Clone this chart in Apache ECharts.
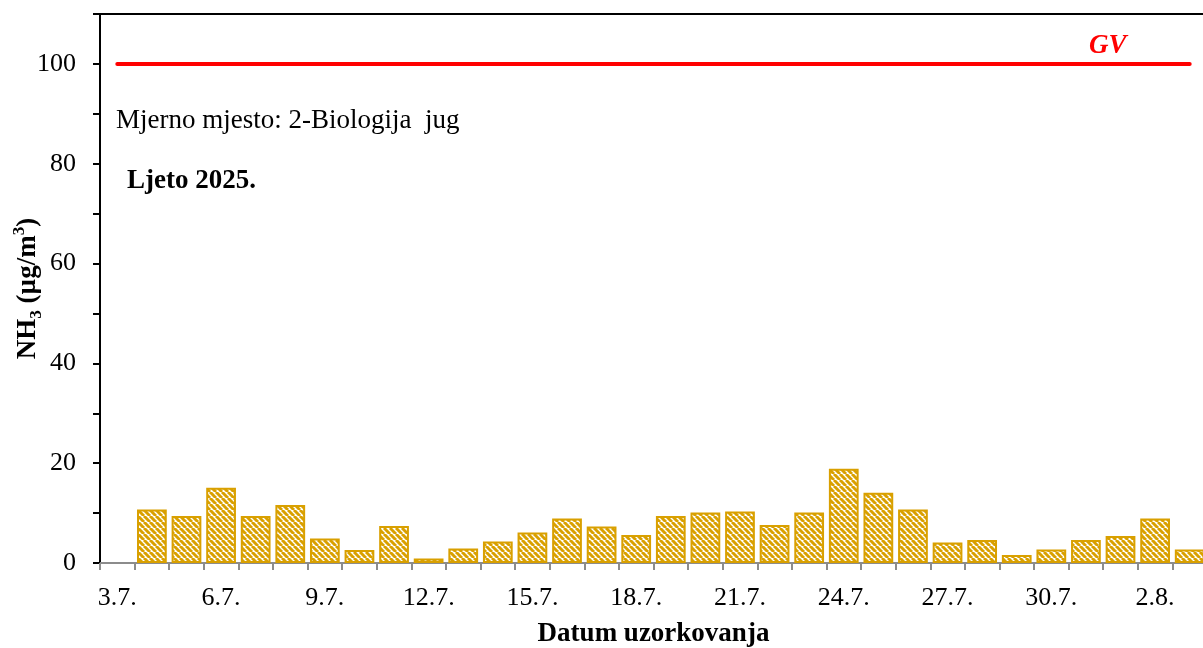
<!DOCTYPE html>
<html>
<head>
<meta charset="utf-8">
<script src="https://cdn.jsdelivr.net/npm/echarts@6/dist/echarts.min.js"></script>
<style>
  html, body { margin: 0; padding: 0; background: #fff; }
  #chart { width: 1203px; height: 648px; }
</style>
</head>
<body>
<div id="chart"></div>
<script type="text/javascript">
// datumi uzorkovanja (3.7. - 3.8.)
var days = ['3.7.', '4.7.', '5.7.', '6.7.', '7.7.', '8.7.', '9.7.', '10.7.', '11.7.', '12.7.',
  '13.7.', '14.7.', '15.7.', '16.7.', '17.7.', '18.7.', '19.7.', '20.7.', '21.7.', '22.7.',
  '23.7.', '24.7.', '25.7.', '26.7.', '27.7.', '28.7.', '29.7.', '30.7.', '31.7.', '1.8.',
  '2.8.', '3.8.'];
// NH3 koncentracije (µg/m3)
var nh3 = [null, 10.7, 9.4, 15.1, 9.4, 11.6, 4.9, 2.6, 7.4, 0.9,
  2.9, 4.3, 6.1, 8.9, 7.3, 5.6, 9.4, 10.1, 10.3, 7.6,
  10.1, 18.9, 14.1, 10.7, 4.1, 4.6, 1.6, 2.7, 4.6, 5.4,
  8.9, 2.7];
// granicna vrijednost
var gv = 100;
var yTicks = [0, 20, 40, 60, 80, 100];

var serif = '"Liberation Serif", "Times New Roman", serif';
var gold = '#D9A000';

// srafura za stupce
function hatch() {
  var n = 6;
  var c = document.createElement('canvas');
  c.width = n; c.height = n;
  var ctx = c.getContext('2d');
  ctx.fillStyle = '#ffffff';
  ctx.fillRect(0, 0, n, n);
  ctx.strokeStyle = gold;
  ctx.lineWidth = 3;
  [-n, 0, n].forEach(function (k) {
    ctx.beginPath();
    ctx.moveTo(k, 0);
    ctx.lineTo(k + n, n);
    ctx.stroke();
  });
  return c;
}

var chart = echarts.init(document.getElementById('chart'));
var options = {
  animation: false,
  backgroundColor: '#ffffff',
  grid: { left: 100, top: 14, right: -4, bottom: 85, containLabel: false, outerBoundsMode: 'none' },
  xAxis: [{
    type: 'category',
    data: days,
    boundaryGap: true,
    axisLine: { lineStyle: { color: '#8c8c8c', width: 2 } },
    axisTick: { show: true, length: 7, alignWithLabel: false, interval: 0, lineStyle: { color: '#8c8c8c', width: 2 } },
    axisLabel: { interval: 2, margin: 22, color: '#000', fontFamily: serif, fontSize: 26 },
    name: 'Datum uzorkovanja',
    nameLocation: 'middle',
    nameGap: 58,
    nameMoveOverlap: false,
    nameTextStyle: { color: '#000', fontFamily: serif, fontSize: 27, fontWeight: 'bold' }
  }, {
    type: 'category',
    data: days,
    position: 'top',
    axisLine: { lineStyle: { color: '#000', width: 2 } },
    axisTick: { show: false },
    axisLabel: { show: false }
  }],
  yAxis: {
    type: 'value',
    min: 0,
    max: 110,
    interval: 10,
    splitLine: { show: false },
    axisLine: { show: true, lineStyle: { color: '#000', width: 2 } },
    axisTick: { show: true, length: 7, lineStyle: { color: '#000', width: 2 } },
    axisLabel: {
      margin: 24, color: '#000', fontFamily: serif, fontSize: 26,
      formatter: function (v) { return yTicks.indexOf(v) >= 0 ? String(v) : ''; }
    },
    name: '{b|NH}{sub|3}{b| (µg/m}{sup|3}{b|)}',
    nameLocation: 'middle',
    nameGap: 55,
    nameMoveOverlap: false,
    nameTextStyle: {
      color: '#000', fontFamily: serif, fontSize: 27, fontWeight: 'bold',
      rich: {
        b: { fontFamily: serif, fontSize: 27, fontWeight: 'bold', color: '#000', lineHeight: 34 },
        sub: { fontFamily: serif, fontSize: 17, fontWeight: 'bold', color: '#000', verticalAlign: 'bottom', lineHeight: 22 },
        sup: { fontFamily: serif, fontSize: 17, fontWeight: 'bold', color: '#000', verticalAlign: 'top', lineHeight: 22 }
      }
    }
  },
  series: [{
    name: 'NH3',
    type: 'bar',
    data: nh3,
    barCategoryGap: '14%',
    itemStyle: {
      color: { image: hatch(), repeat: 'repeat' },
      borderColor: gold,
      borderWidth: 2
    },
    markLine: {
      silent: true,
      symbol: 'none',
      label: { show: false },
      lineStyle: { color: '#ff0000', width: 4, type: 'solid', cap: 'round' },
      data: [[{ coord: [days[0], gv] }, { coord: [days[days.length - 1], gv] }]]
    }
  }],
  graphic: [{
    type: 'text', left: 1089, top: 33,
    style: { text: 'GV', fill: '#ff0000', font: 'italic bold 27px ' + serif }
  }, {
    type: 'text', left: 116, top: 107,
    style: { text: 'Mjerno mjesto: 2-Biologija  jug', fill: '#000', font: '27px ' + serif }
  }, {
    type: 'text', left: 127, top: 168,
    style: { text: 'Ljeto 2025.', fill: '#000', font: 'bold 27px ' + serif }
  }]
};
chart.setOption(options);
</script>
</body>
</html>
